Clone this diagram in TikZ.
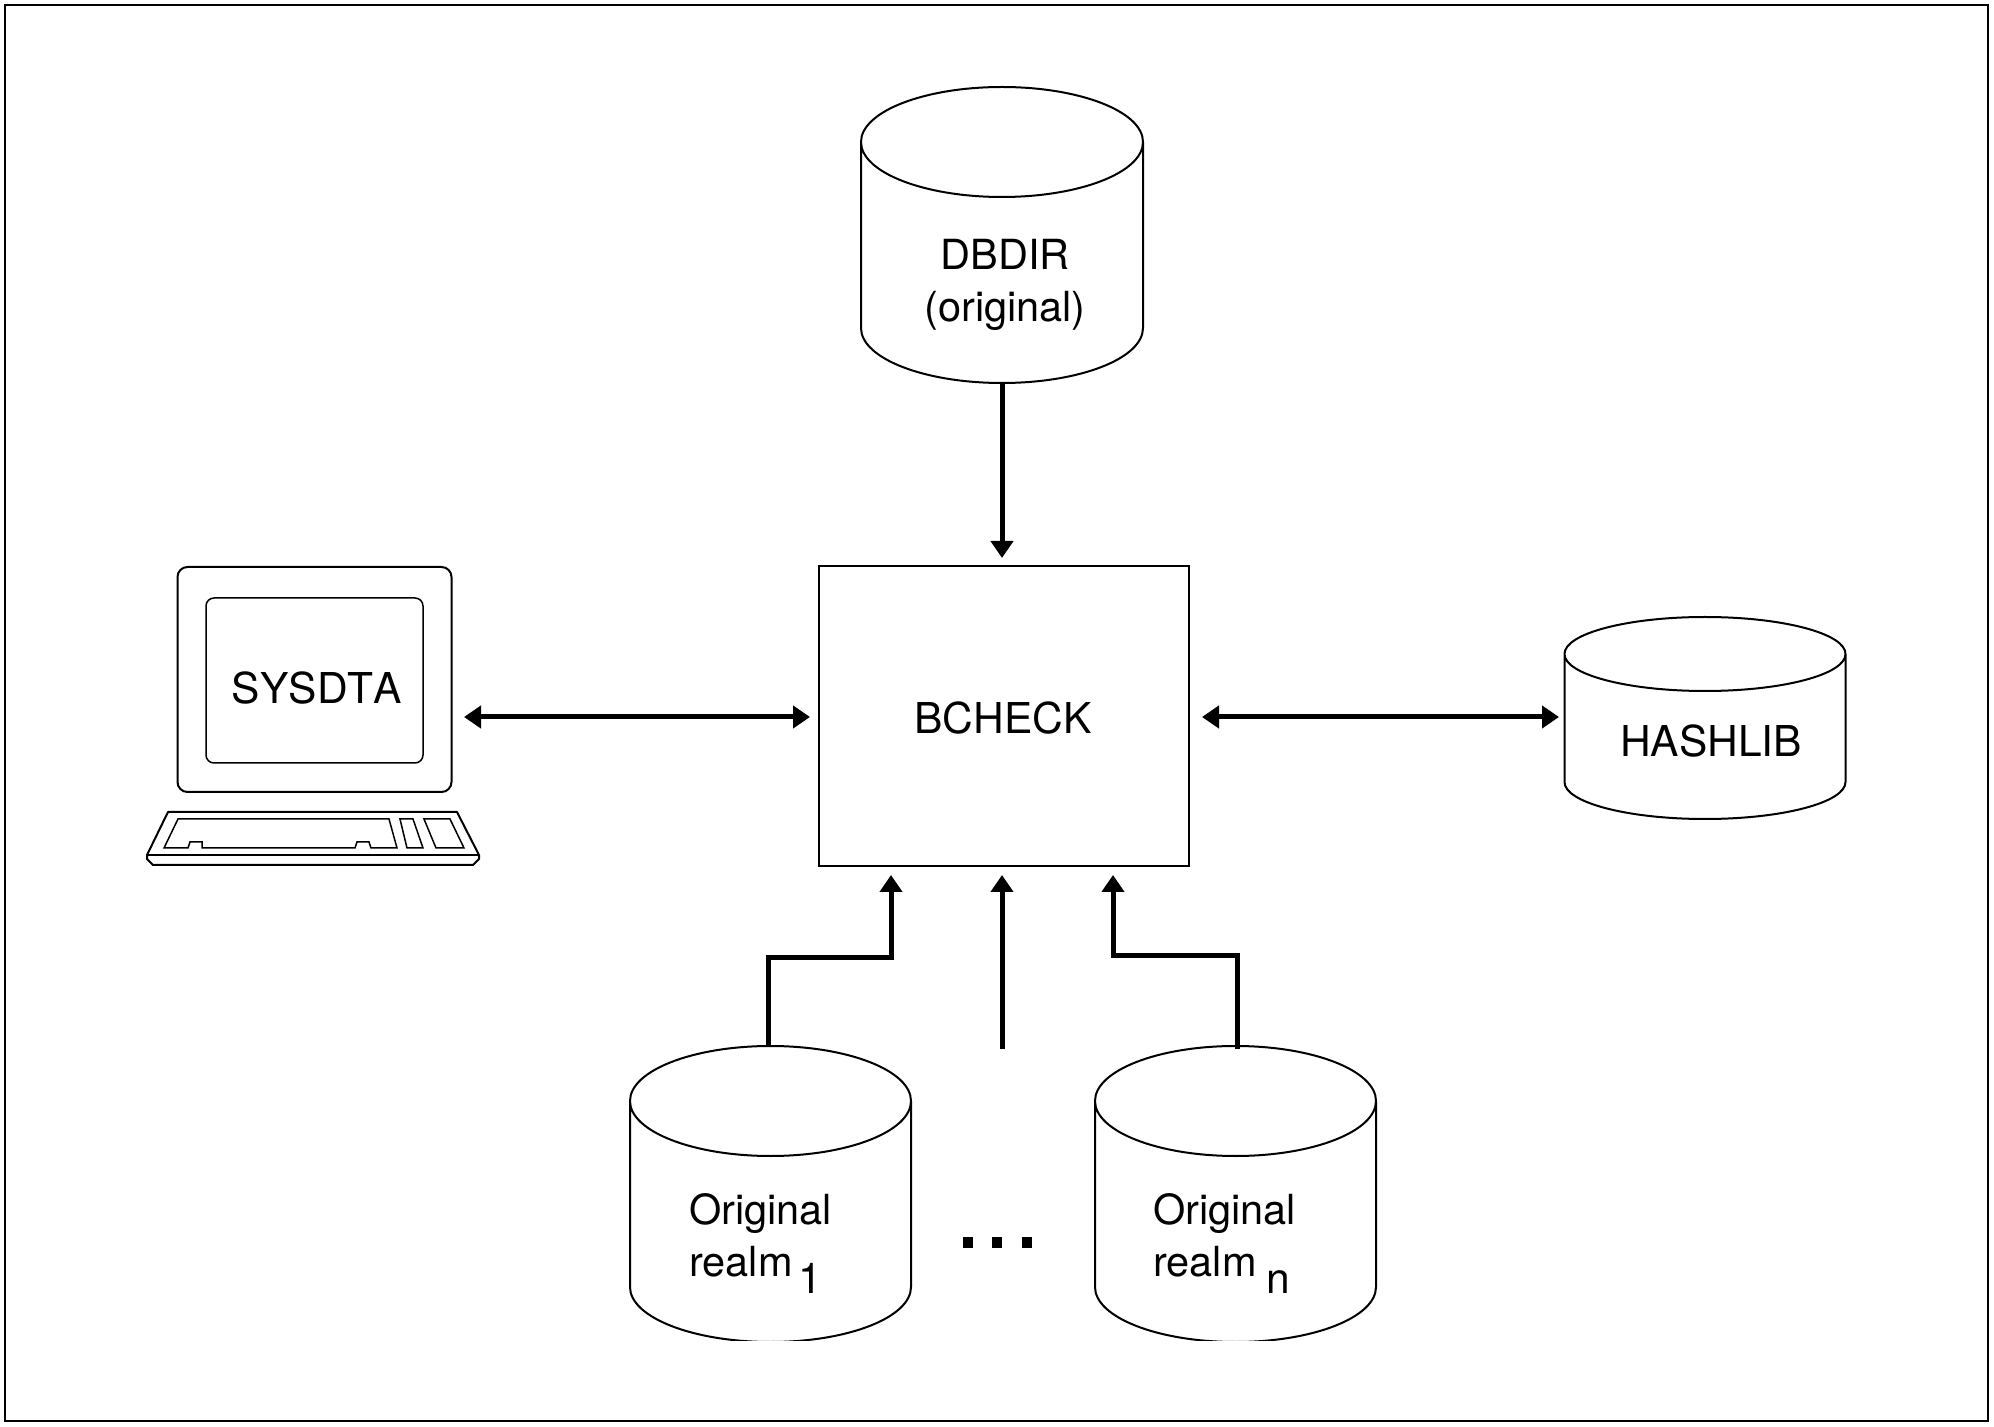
\documentclass[tikz,border=0pt]{standalone}
\usepackage{fontspec}
\setmainfont[Kerning=Off]{TeX Gyre Heros}
\usetikzlibrary{arrows.meta}
\tikzset{
  x=0.5pt,y=-0.5pt,
  thinline/.style={draw=black,line width=1pt},
  box/.style={thinline,rectangle,inner sep=0pt,outer sep=0pt},
  txt/.style={font=\fontsize{21.25}{25}\selectfont,inner sep=0pt,outer sep=0pt,text=black},
  txtsmall/.style={font=\fontsize{20.75}{25}\selectfont,inner sep=0pt,outer sep=0pt,text=black},
  arr/.style={line width=2.5pt,-{Triangle[length=8.5pt,width=11pt]}},
  dbl/.style={line width=2.5pt,{Triangle[length=8.5pt,width=11pt]}-{Triangle[length=8.5pt,width=11pt]}},
  dot/.style={fill=black,rectangle,inner sep=0pt,outer sep=0pt,minimum width=5.25pt,minimum height=5.5pt},
  anchorbox/.style={rectangle,inner sep=0pt,outer sep=0pt}
}
% name, cx, cy, half width (pt), height (pt), minor radius (pt)
\newcommand{\drum}[6]{%
  \node[anchorbox,minimum width=#4*2pt,minimum height=#5pt] (#1) at (#2,#3) {};
  \draw[thinline,line join=round] ([yshift=-#6pt]#1.north west)
     arc[start angle=180,end angle=-180,x radius=#4pt,y radius=#6pt]
     -- ([yshift=#6pt]#1.south west)
     arc[start angle=180,end angle=360,x radius=#4pt,y radius=#6pt]
     -- ([yshift=-#6pt]#1.north east);
}
\begin{document}
\begin{tikzpicture}
\useasboundingbox (0,0) rectangle (1994,1427);
\node[box,minimum width=991.5pt,minimum height=708pt] (frame) at (996.5,713) {};
% databases
\drum{dbdir}{1002}{235}{70.5}{148}{27.5}
\begin{scope}
\clip (0,0) rectangle (1994,1340);
\drum{realmA}{770.5}{1194}{70.25}{148}{27.5}
\drum{realmB}{1235.5}{1194}{70.25}{148}{27.5}
\end{scope}
\drum{hash}{1705}{718}{70.25}{101}{18.5}
% central box
\node[box,minimum width=185pt,minimum height=150pt] (bcheck) at (1004,716) {};
\node[txt,anchor=base] (tb) at (1003,734) {BCHECK};
\node[txtsmall,anchor=base] (t1) at (1005,270) {DBDIR};
\node[txtsmall,anchor=base] (t2) at (1005,322) {(original)};
\node[txt,anchor=base] (t3) at (1711,757) {HASHLIB};
\node[txtsmall,anchor=base west] (t4) at (689,1224) {Original};
\node[txtsmall,anchor=base west] (t5) at (689,1276) {realm};
\node[txt,anchor=base west] (t6) at (798,1293) {1};
\node[txtsmall,anchor=base west] (t7) at (1153,1224) {Original};
\node[txtsmall,anchor=base west] (t8) at (1153,1276) {realm};
\node[txt,anchor=base west] (t9) at (1266,1293) {n};
% terminal
\node[anchorbox,minimum width=137pt,minimum height=112.5pt] (mon) at (314.5,679.5) {};
\draw[thinline,rounded corners=5pt] (mon.north west) rectangle (mon.south east);
\draw[line width=0.75pt,rounded corners=4pt] (206,598) rectangle (423,763);
\node[txt,anchor=base] (t0) at (317,704) {SYSDTA};
\draw[thinline,line join=round] (168,812) -- (457,812) -- (479,855) -- (479,859) -- (473,865) -- (153,865) -- (147,859) -- (147,855) -- cycle;
\draw[line width=0.75pt] (147,855) -- (479,855);
\draw[line width=0.75pt] (178,819) -- (389,819) -- (397,848) -- (371,848) -- (369,842) -- (357,842) -- (355,848) -- (202,848) -- (202,842) -- (190,842) -- (188,848) -- (164,848) -- cycle;
\draw[line width=0.75pt] (400,819) -- (413,819) -- (423,848) -- (407,848) -- cycle;
\draw[line width=0.75pt] (424,819) -- (450,819) -- (464,848) -- (436,848) -- cycle;
% dots
\node[dot] (d1) at (968,1242) {};
\node[dot] (d2) at (997,1242) {};
\node[dot] (d3) at (1027,1242) {};
% connector ends
\coordinate (a1) at (891,866);
\coordinate (a2) at (1002,866);
\coordinate (a3) at (1113,866);
\coordinate (r1) at (768,1047);
\coordinate (r2) at (1002,1049);
\coordinate (r3) at (1237,1049);
\coordinate (top) at (1002,566);
\coordinate (l0) at (452,717);
\coordinate (l1) at (819,717);
\coordinate (l2) at (1189,717);
\coordinate (l3) at (1564,717);
% connectors
\draw[arr,shorten >=4pt] (dbdir.south) -- (top);
\draw[dbl,shorten <=6pt,shorten >=4.5pt] (l0) -- (l1);
\draw[dbl,shorten <=6.5pt,shorten >=2.5pt] (l2) -- (l3);
\draw[arr,shorten >=4.5pt] (r1) -- (768,958) -- (891,958) -- (a1);
\draw[arr,shorten >=4.5pt] (r2) -- (a2);
\draw[arr,shorten >=4.5pt] (r3) -- (1237,956) -- (1113,956) -- (a3);
\end{tikzpicture}
\end{document}
